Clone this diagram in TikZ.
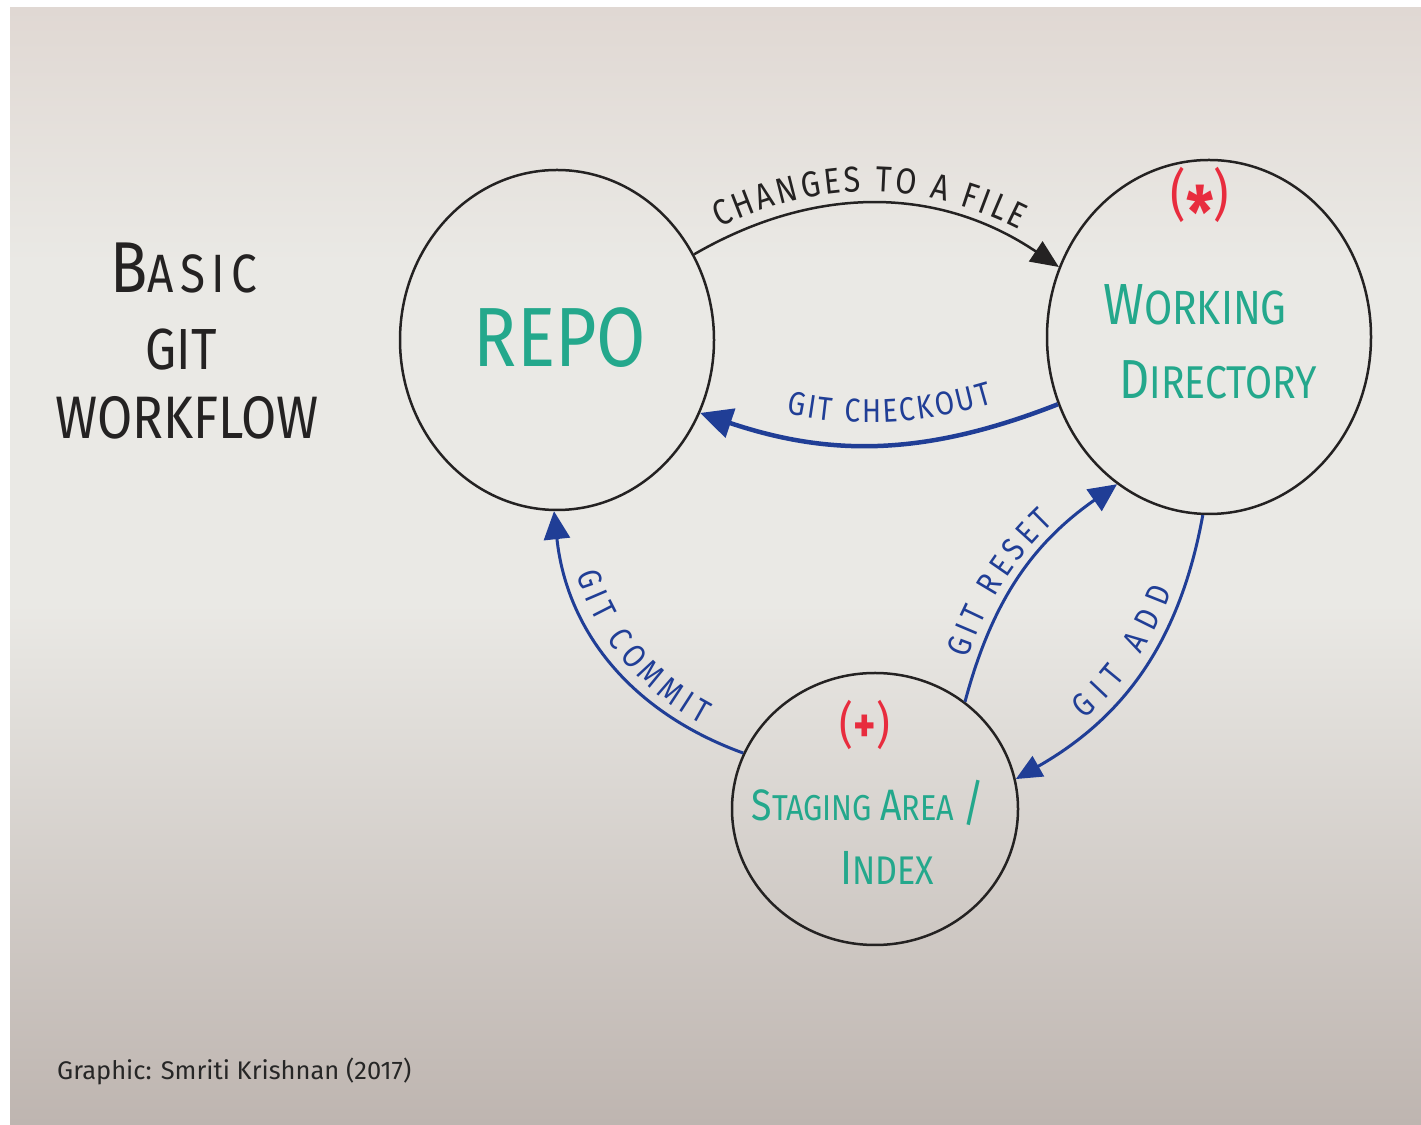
\documentclass[tikz,border=0pt]{standalone}
\usepackage{fontspec}
\usepackage{xcolor}
\usepackage{tikz}
\usetikzlibrary{shapes.geometric,arrows.meta,decorations.text,positioning}
\setmainfont{Fira Sans}
\newfontfamily\hand[FakeStretch=0.85]{Fira Sans}
\newfontfamily\handwide[FakeStretch=0.85,LetterSpace=12]{Fira Sans}
\definecolor{boardtop}{RGB}{224,216,211}
\definecolor{boardmid}{RGB}{234,233,229}
\definecolor{boardbot}{RGB}{190,181,176}
\definecolor{ink}{RGB}{36,34,34}
\definecolor{pen}{RGB}{32,62,150}
\definecolor{mint}{RGB}{36,168,140}
\definecolor{mark}{RGB}{232,44,62}
\newcommand\capl[2]{{\fontsize{#1}{#1}\selectfont #2}}
\newcommand\labfont{\hand\fontsize{33}{33}\selectfont}

\begin{document}
\begin{tikzpicture}[x=1pt,y=1pt,
    blob/.style={ellipse,draw=ink,line width=2.5pt,inner sep=0pt},
    hw/.style={anchor=center,inner sep=0pt},
    flow/.style={draw=pen,line width=3pt},
    bigtip/.tip={Triangle[length=28pt,width=26pt]},
    lab/.style n args={4}{postaction={decorate,decoration={text along path,
        text={|\labfont|#4},text color=pen,raise=#1,
        text align={left indent=#2,right indent=#3,fit to path}}}}]
    \useasboundingbox (0,0) rectangle (1421,1124);
    \fill[white] (0,0) rectangle (1421,1124);
    % the board: light in the middle, darker at the top and the bottom
    \fill[boardmid] (10,0) rectangle (1421,1116);
    \shade[top color=boardtop,bottom color=boardmid] (10,860) rectangle (1421,1116);
    \shade[top color=boardmid,bottom color=boardbot] (10,0) rectangle (1421,520);

    % the three areas
    \node[blob,minimum width=314pt,minimum height=340pt] (repo) at (557,784) {};
    \node[blob,minimum width=324pt,minimum height=354pt] (wd) at (1209,787) {};
    \node[blob,minimum width=286pt,minimum height=272pt] (stage) at (875,315) {};

    % title
    \node[hw,text=ink,font=\handwide\fontsize{54}{54}\selectfont] (basic) at (184,856) {\capl{72}{B}ASIC};
    \node[hw,text=ink,font=\hand\fontsize{58}{58}\selectfont] (git) at (181,774) {GIT};
    \node[hw,text=ink,font=\hand\fontsize{60}{60}\selectfont] (workflow) at (187,706) {WORKFLOW};

    % texts in the areas
    \node[hw,text=mint,font=\hand\fontsize{84}{84}\selectfont] (repotxt) at (560,786) {REPO};
    \node[hw,text=mark,font=\hand\fontsize{56}{56}\selectfont] (star) at (1200,921)
        {(\raisebox{-24pt}{\fontsize{72}{72}\selectfont\bfseries *})};
    \node[hw,text=mint,font=\hand\fontsize{48}{48}\selectfont] (working) at (1195,819) {\capl{58}{W}ORKING};
    \node[hw,text=mint,font=\hand\fontsize{46}{46}\selectfont] (directory) at (1218,744) {\capl{55}{D}IRECTORY};
    \node[hw,text=mark,font=\hand\fontsize{50}{50}\selectfont] (plus) at (865,399) {(\textbf{+})};
    \node[hw,text=mint,font=\hand\fontsize{36}{36}\selectfont] (staging) at (868,321)
        {\capl{44}{S}TAGING \capl{44}{A}REA \capl{50}{/}};
    \node[hw,text=mint,font=\hand\fontsize{40}{40}\selectfont] (index) at (887,256) {\capl{48}{I}NDEX};

    % moves between the areas
    \draw[draw=ink,line width=2.5pt,-{Triangle[length=28pt,width=24pt]},
        postaction={decorate,decoration={text along path,
        text={|\hand\fontsize{36}{36}\selectfont|CHANGES TO A FILE},text color=ink,raise=12pt,
        text align={left indent=34pt,right indent=52pt,fit to path}}}]
        (repo.32) to[bend left=32] (wd.155);
    \draw[flow,line width=4.5pt,{Triangle[length=32pt,width=30pt]}-,
        lab={22pt}{85pt}{62pt}{GIT CHECKOUT}]
        (repo.-27) to[bend right=20] (wd.204);
    \draw[flow,bigtip-,lab={10pt}{68pt}{50pt}{GIT COMMIT}]
        (repo.-91) to[bend right=32] (stage.157);
    \draw[flow,-bigtip,lab={10pt}{42pt}{72pt}{GIT RESET}]
        (stage.50) to[bend left=20] (wd.238);
    \draw[flow,{Triangle[length=26pt,width=23pt]}-,lab={10pt}{92pt}{82pt}{GIT ADD}]
        (stage.12) to[bend right=25] (wd.268);

    \node[anchor=base west,inner sep=0pt,font=\fontsize{25.5}{25.5}\selectfont,text=black!85]
        (credit) at (57,44) {Graphic: Smriti Krishnan (2017)};
\end{tikzpicture}
\end{document}
